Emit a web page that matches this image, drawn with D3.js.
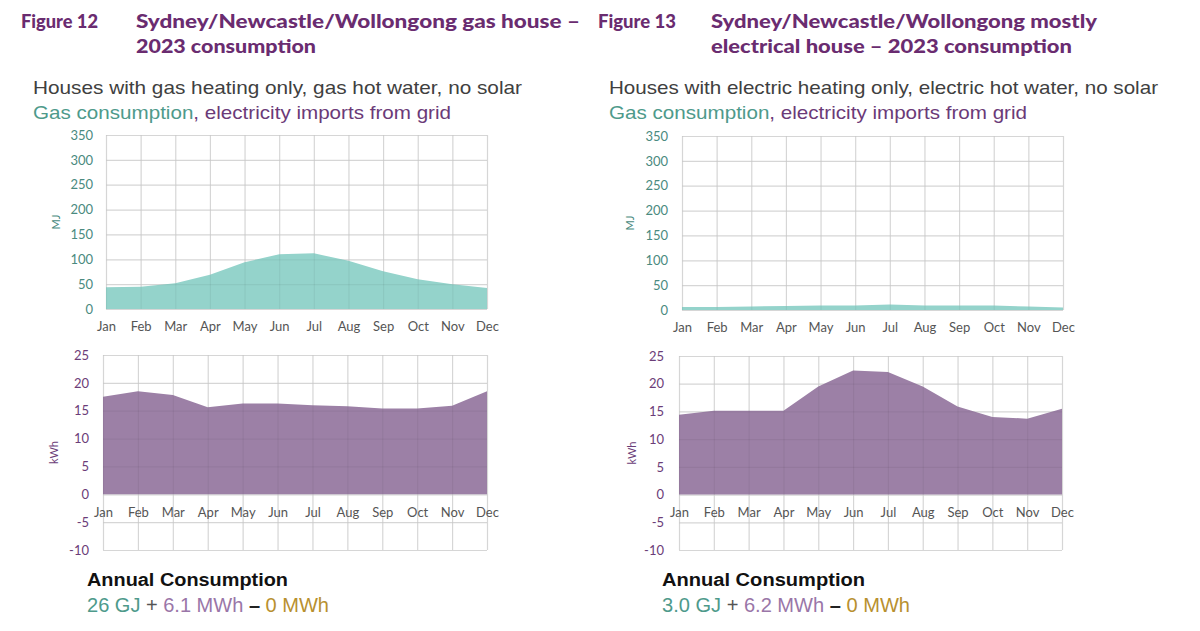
<!DOCTYPE html>
<html><head><meta charset="utf-8">
<script src="https://cdn.jsdelivr.net/npm/d3@7/dist/d3.min.js"></script>
<style>
html,body{margin:0;padding:0;background:#fff;}
svg{display:block;}
</style></head>
<body>
<svg id="chart" width="1200" height="631"></svg>
<script>
// ---------- DATA ----------
const months = ["Jan","Feb","Mar","Apr","May","Jun","Jul","Aug","Sep","Oct","Nov","Dec"];
const mjTicks = [0,50,100,150,200,250,300,350];
const kwhTicks = [-10,-5,0,5,10,15,20,25];
// Figure 12 – gas house
const gasHouseGasMJ   = [44,45,52,69,94,110,112,97,76,60,50,42];
const gasHouseElecKWh = [17.5,18.5,17.8,15.6,16.3,16.3,16.0,15.8,15.4,15.4,15.9,18.5];
// Figure 13 – mostly electrical house
const elecHouseGasMJ   = [6,6,7,8,9,9,11,9,9,9,7,5];
const elecHouseElecKWh = [14.4,15.1,15.1,15.1,19.5,22.4,22.1,19.5,15.9,14.0,13.7,15.5];

const figNumbers = ["Figure 12","Figure 13"];
const titleLine1 = ["Sydney/Newcastle/Wollongong gas house \u2013","Sydney/Newcastle/Wollongong mostly"];
const titleLine2 = ["2023 consumption","electrical house \u2013 2023 consumption"];
const subtitles = ["Houses with gas heating only, gas hot water, no solar","Houses with electric heating only, electric hot water, no solar"];
const annualGas = ["26 GJ","3.0 GJ"];
const annualElec = ["6.1 MWh","6.2 MWh"];
const annualExport = ["0 MWh","0 MWh"];

// ---------- STYLE ----------
const C = {
  title:"#6a2c70", sub:"#404040", teal:"#4e9a8b", purpleTxt:"#6b3a78",
  purpleLight:"#9a76a8", gold:"#b8902f", tealFill:"#94d3cb", purpleFill:"#9c80a6",
  grid:"#e2e2e2", month:"#555555", tealTick:"#4a8a80", purpleTick:"#6b3d78"
};

const svg = d3.select("#chart");

function stretch(sel, target){
  sel.attr("textLength", target).attr("lengthAdjust","spacingAndGlyphs");
  return sel;
}

const panels = [
  {gas:gasHouseGasMJ, elec:gasHouseElecKWh,
   figX:21, figW:77, titleX:136, t1W:444, t2W:180, subX:33, subW:489, sub2W:418,
   annX:87, annW:201, ann2W:242,
   top:{x0:106,x1:487,y0:309,y1:135}, bot:{x0:103,x1:487,ytop:355,ybot:550},
   mjLabX:60, kwhLabX:58, tickRight:93},
  {gas:elecHouseGasMJ, elec:elecHouseElecKWh,
   figX:598, figW:78, titleX:711, t1W:386, t2W:361, subX:609, subW:549, sub2W:418,
   annX:662, annW:203, ann2W:248,
   top:{x0:682,x1:1063,y0:310,y1:136}, bot:{x0:679,x1:1062,ytop:356,ybot:550},
   mjLabX:634, kwhLabX:636, tickRight:668}
];

const intFmt = d => String(d);

panels.forEach((p,i)=>{
  const g = svg.append("g");
  // Titles
  const tStyle = s => s.attr("fill",C.title).style("font-family","Lato").style("font-weight","900").style("font-size","19px");
  stretch(g.append("text").attr("x",p.figX).attr("y",28).call(tStyle).text(figNumbers[i]), p.figW);
  stretch(g.append("text").attr("x",p.titleX).attr("y",28).call(tStyle).text(titleLine1[i]), p.t1W);
  stretch(g.append("text").attr("x",p.titleX).attr("y",53).call(tStyle).text(titleLine2[i]), p.t2W);
  // Subtitles
  stretch(g.append("text").attr("x",p.subX).attr("y",94).attr("fill",C.sub)
    .style("font-family","Liberation Sans").style("font-size","19px").text(subtitles[i]), p.subW);
  const s2 = g.append("text").attr("x",p.subX).attr("y",119).style("font-family","Liberation Sans").style("font-size","19px");
  s2.append("tspan").attr("fill",C.teal).text("Gas consumption");
  s2.append("tspan").attr("fill",C.purpleTxt).text(", electricity imports from grid");
  stretch(s2, p.sub2W);

  // ---------- Top chart (MJ) ----------
  const x = d3.scalePoint().domain(months).range([p.top.x0,p.top.x1]);
  const y = d3.scaleLinear().domain([0,350]).range([p.top.y0,p.top.y1]);
  const gridT = (cls)=>{
    const gg = g.append("g");
    gg.append("g").attr("transform",`translate(${p.top.x0},0)`)
      .call(d3.axisLeft(y).tickValues(mjTicks).tickSize(-(p.top.x1-p.top.x0)).tickFormat(""))
      .call(a=>a.select(".domain").remove())
      .call(a=>a.selectAll("line").attr("stroke",cls).attr("stroke-width",1.2));
    gg.append("g").attr("transform",`translate(0,${p.top.y0})`)
      .call(d3.axisBottom(x).tickSize(-(p.top.y0-p.top.y1)).tickFormat(""))
      .call(a=>a.select(".domain").remove())
      .call(a=>a.selectAll("line").attr("stroke",cls).attr("stroke-width",1.2));
  };
  gridT(C.grid);
  const areaT = d3.area().x((d,j)=>x(months[j])).y0(y(0)).y1(d=>y(d));
  g.append("path").datum(p.gas).attr("d",areaT).attr("fill",C.tealFill);
  gridT("rgba(0,0,0,0.05)");
  g.append("g").attr("transform",`translate(${p.tickRight},0)`)
    .call(d3.axisLeft(y).tickValues(mjTicks).tickSize(0).tickPadding(0).tickFormat(intFmt))
    .call(a=>a.select(".domain").remove())
    .call(a=>a.selectAll("text").attr("fill",C.tealTick).style("font-family","Lato").style("font-size","13px"));
  g.append("g").attr("transform",`translate(0,${p.top.y0})`)
    .call(d3.axisBottom(x).tickSize(0).tickPadding(13))
    .call(a=>a.select(".domain").remove())
    .call(a=>a.selectAll("text").attr("fill",C.month).style("font-family","Lato").style("font-size","13px"));
  g.append("text").attr("transform",`translate(${p.mjLabX},${(p.top.y0+p.top.y1)/2}) rotate(-90)`)
    .attr("text-anchor","middle").attr("fill",C.tealTick).style("font-family","Lato").style("font-size","11px").text("MJ");

  // ---------- Bottom chart (kWh) ----------
  const xb = d3.scalePoint().domain(months).range([p.bot.x0,p.bot.x1]);
  const yb = d3.scaleLinear().domain([-10,25]).range([p.bot.ybot,p.bot.ytop]);
  const gridB = (cls)=>{
    const gg = g.append("g");
    gg.append("g").attr("transform",`translate(${p.bot.x0},0)`)
      .call(d3.axisLeft(yb).tickValues(kwhTicks).tickSize(-(p.bot.x1-p.bot.x0)).tickFormat(""))
      .call(a=>a.select(".domain").remove())
      .call(a=>a.selectAll("line").attr("stroke",cls).attr("stroke-width",1.2));
    gg.append("g").attr("transform",`translate(0,${p.bot.ybot})`)
      .call(d3.axisBottom(xb).tickSize(-(p.bot.ybot-p.bot.ytop)).tickFormat(""))
      .call(a=>a.select(".domain").remove())
      .call(a=>a.selectAll("line").attr("stroke",cls).attr("stroke-width",1.2));
  };
  gridB(C.grid);
  const areaB = d3.area().x((d,j)=>xb(months[j])).y0(yb(0)).y1(d=>yb(d));
  g.append("path").datum(p.elec).attr("d",areaB).attr("fill",C.purpleFill);
  gridB("rgba(0,0,0,0.05)");
  g.append("g").attr("transform",`translate(${p.tickRight-4},0)`)
    .call(d3.axisLeft(yb).tickValues(kwhTicks).tickSize(0).tickPadding(0).tickFormat(intFmt))
    .call(a=>a.select(".domain").remove())
    .call(a=>a.selectAll("text").attr("fill",C.purpleTick).style("font-family","Lato").style("font-size","13px"));
  g.append("g").attr("transform",`translate(0,${yb(0)})`)
    .call(d3.axisBottom(xb).tickSize(0).tickPadding(13))
    .call(a=>a.select(".domain").remove())
    .call(a=>a.selectAll("text").attr("fill",C.month).style("font-family","Lato").style("font-size","13px"));
  g.append("text").attr("transform",`translate(${p.kwhLabX},${yb(7.5)}) rotate(-90)`)
    .attr("text-anchor","middle").attr("fill",C.purpleTick).style("font-family","Lato").style("font-size","11px").text("kWh");

  // ---------- Annual consumption ----------
  stretch(g.append("text").attr("x",p.annX).attr("y",586).attr("fill","#111")
    .style("font-family","Liberation Sans").style("font-weight","bold").style("font-size","18px").text("Annual Consumption"), p.annW);
  const an = g.append("text").attr("x",p.annX).attr("y",612).style("font-family","Liberation Sans").style("font-size","20px");
  an.append("tspan").attr("fill",C.teal).text(annualGas[i]);
  an.append("tspan").attr("fill","#555").text(" + ");
  an.append("tspan").attr("fill",C.purpleLight).text(annualElec[i]);
  an.append("tspan").attr("fill","#222").style("font-weight","bold").text(" \u2013 ");
  an.append("tspan").attr("fill",C.gold).text(annualExport[i]);
  stretch(an, p.ann2W);
});
</script>
</body></html>
